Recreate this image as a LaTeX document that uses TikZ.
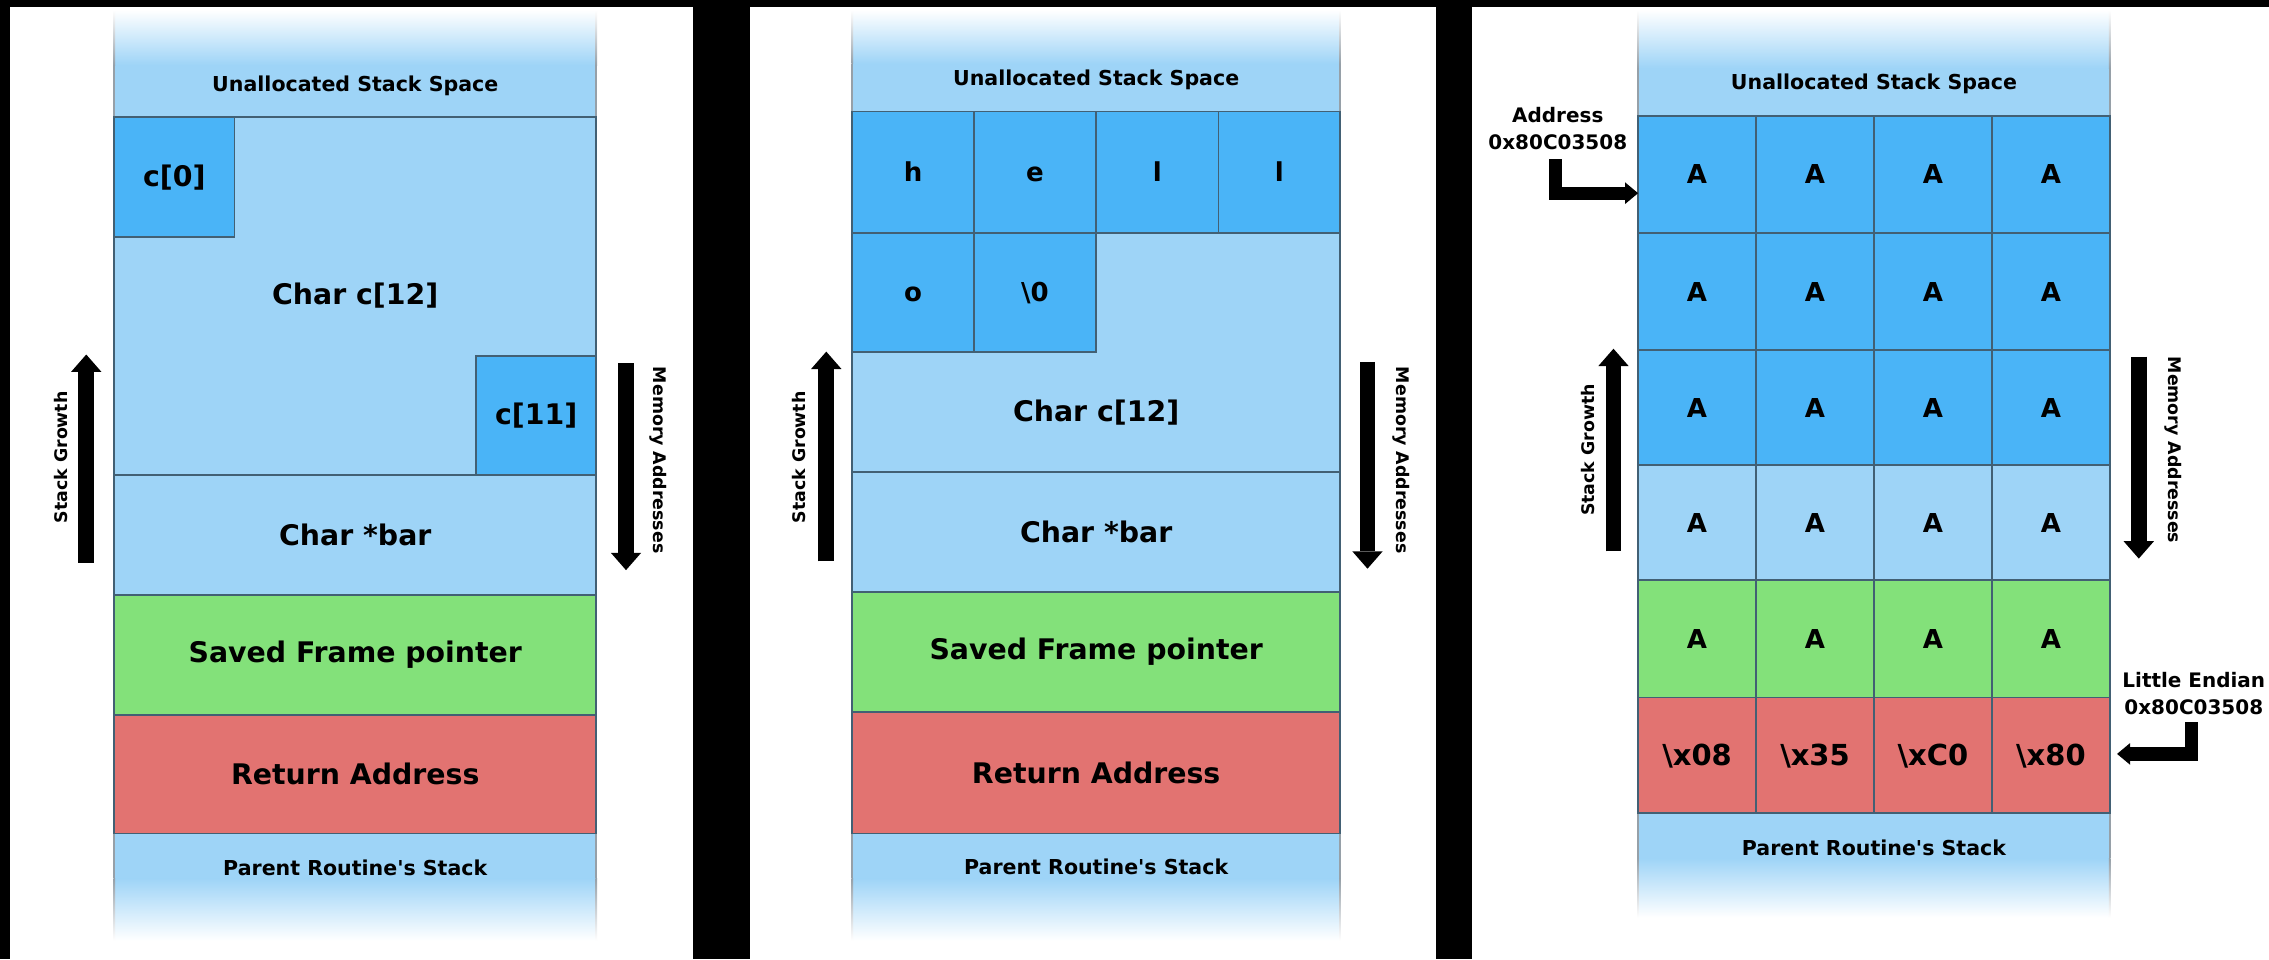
\documentclass[tikz,border=0pt]{standalone}
\usepackage{fontspec}
\setmainfont{DejaVu Sans}
\usetikzlibrary{arrows.meta}

\definecolor{lb}{RGB}{158,212,247}
\definecolor{cb}{RGB}{74,180,247}
\definecolor{gr}{RGB}{131,225,122}
\definecolor{rd}{RGB}{226,115,113}
\definecolor{sep}{RGB}{66,96,116}
\definecolor{side}{RGB}{150,160,168}

\newcommand\mainlbl{\fontsize{9.8}{11}\selectfont\bfseries}
\newcommand\smalllblfont{\fontsize{7.1}{8.5}\selectfont\bfseries}
\newcommand\sidefont{\fontsize{6}{7}\selectfont\bfseries}
\newcommand\cellfont{\fontsize{9}{10}\selectfont\bfseries}
\newcommand\hexfont{\fontsize{10}{11}\selectfont\bfseries}
\newcommand\addrfont{\fontsize{6.9}{9.25}\selectfont\bfseries}

\tikzset{
  lbrow/.style={rectangle, fill=lb, draw=sep, line width=0.6pt,
    inner sep=0pt, outer sep=0pt, font=\mainlbl},
  cellbox/.style={lbrow, fill=cb},
  fpbox/.style={lbrow, fill=gr},
  retbox/.style={lbrow, fill=rd},
  glyph/.style={font=\cellfont, text height=6.6pt, text depth=0pt},
  hexglyph/.style={font=\hexfont, text height=7.3pt, text depth=0pt},
  smalllbl/.style={font=\smalllblfont, inner sep=0pt},
  sidelbl/.style={font=\sidefont, inner sep=0pt},
  addrlbl/.style={font=\addrfont, align=center, inner sep=0pt},
  growarrow/.style={line width=5.5pt,
    -{Triangle[width=10.5pt,length=6pt,line width=0pt]}},
  ptrarrow/.style={line width=4.6pt, line join=miter,
    -{Triangle[width=7.5pt,length=4.5pt,line width=0pt]}},
}

% name, style, x1, y1, x2, y2, text
\newcommand\memcell[7]{%
  \node[#2, minimum width={((#5)-(#3))*0.5pt}, minimum height={((#6)-(#4))*0.5pt}]
    (#1) at ({((#3)+(#5))/2},{((#4)+(#6))/2}) {#7};}

% fading ends of a stack column:
% xl, xr, fade top, solid top, rows top, rows bottom, solid end, fade end
\newcommand\stackends[8]{%
  \shade[top color=white,bottom color=lb] (#1,#3) rectangle (#2,#4);
  \fill[lb] (#1,#4) rectangle (#2,#5);
  \fill[lb] (#1,#6) rectangle (#2,#7);
  \shade[top color=lb,bottom color=white] (#1,#7) rectangle (#2,#8);
  \foreach \sx in {#1,#2}{
    \shade[top color=white,bottom color=side] (\sx-0.6,#3) rectangle (\sx+0.6,#4);
    \fill[side] (\sx-0.6,#4) rectangle (\sx+0.6,#5);
    \fill[side] (\sx-0.6,#6) rectangle (\sx+0.6,#7);
    \shade[top color=side,bottom color=white] (\sx-0.6,#7) rectangle (\sx+0.6,#8);
  }}

\begin{document}
\begin{tikzpicture}[x=0.5pt,y=-0.5pt]
\useasboundingbox (0,0) rectangle (1568,663);
\fill[black] (0,0) rectangle (1568,663);
\fill[white] (7,5) rectangle (479,663);
\fill[white] (518,5) rectangle (992,663);
\fill[white] (1017,5) rectangle (1568,663);

% ---------- frame of foo(): layout ----------
\stackends{79}{412}{7}{45}{81}{576}{607}{650}
\memcell{arrA}{lbrow}{79}{81}{412}{328}{Char c[12]}
\memcell{cfirst}{cellbox}{79}{81}{162}{164}{c[0]}
\memcell{clast}{cellbox}{329}{246}{412}{328}{c[11]}
\memcell{barA}{lbrow}{79}{328}{412}{411}{Char *bar}
\memcell{sfpA}{fpbox}{79}{411}{412}{494}{Saved Frame pointer}
\memcell{retA}{retbox}{79}{494}{412}{576}{Return Address}
\node[smalllbl] (unA) at (245.5,59) {Unallocated Stack Space};
\node[smalllbl] (prA) at (245.5,600) {Parent Routine\textquotesingle s Stack};

\coordinate (sgAfoot) at (59.6,389);
\coordinate (sgAtip) at (59.6,245);
\draw[growarrow] (sgAfoot) -- (sgAtip);
\coordinate (maAtop) at (432.6,251);
\coordinate (maAtip) at (432.6,394);
\draw[growarrow] (maAtop) -- (maAtip);
\node[sidelbl, rotate=90] (sgA) at (42.5,316) {Stack Growth};
\node[sidelbl, rotate=-90] (maA) at (455,318) {Memory Addresses};

% ---------- frame with "hello" copied in ----------
\stackends{589}{926}{7}{44}{77}{576}{607}{650}
\memcell{arrB}{lbrow}{589}{161}{926}{326}{}
\memcell{hB}{cellbox,glyph}{589}{77}{673}{161}{h}
\memcell{eB}{cellbox,glyph}{673}{77}{757.5}{161}{e}
\memcell{lB}{cellbox,glyph}{757.5}{77}{842}{161}{l}
\memcell{llB}{cellbox,glyph}{842}{77}{926}{161}{l}
\memcell{oB}{cellbox,glyph}{589}{161}{673}{243}{o}
\memcell{nulB}{cellbox,glyph}{673}{161}{757.5}{243}{\textbackslash 0}
\node[font=\mainlbl, inner sep=0pt] (arrBtxt) at (757.5,285) {Char c[12]};
\memcell{barB}{lbrow}{589}{326}{926}{409}{Char *bar}
\memcell{sfpB}{fpbox}{589}{409}{926}{492}{Saved Frame pointer}
\memcell{retB}{retbox}{589}{492}{926}{576}{Return Address}
\node[smalllbl] (unB) at (757.5,55) {Unallocated Stack Space};
\node[smalllbl] (prB) at (757.5,599) {Parent Routine\textquotesingle s Stack};

\coordinate (sgBfoot) at (571,388);
\coordinate (sgBtip) at (571,243);
\draw[growarrow] (sgBfoot) -- (sgBtip);
\coordinate (maBtop) at (945,250);
\coordinate (maBtip) at (945,393);
\draw[growarrow] (maBtop) -- (maBtip);
\node[sidelbl, rotate=90] (sgB) at (552,316) {Stack Growth};
\node[sidelbl, rotate=-90] (maB) at (968,318) {Memory Addresses};

% ---------- overflowed frame ----------
\stackends{1132}{1458}{7}{47}{80}{562}{593}{634}
\foreach \r/\ya/\yb in {1/80/161,2/161/242,3/242/321.5}{
  \foreach \c/\xa/\xb in {1/1132/1213.5,2/1213.5/1295,3/1295/1376.5,4/1376.5/1458}{
    \memcell{r\r\c}{cellbox,glyph}{\xa}{\ya}{\xb}{\yb}{A}}}
\foreach \c/\xa/\xb in {1/1132/1213.5,2/1213.5/1295,3/1295/1376.5,4/1376.5/1458}{
  \memcell{r4\c}{lbrow,glyph}{\xa}{321.5}{\xb}{401}{A}
  \memcell{r5\c}{fpbox,glyph}{\xa}{401}{\xb}{482}{A}}
\memcell{r61}{retbox,hexglyph}{1132}{482}{1213.5}{562}{\textbackslash x08}
\memcell{r62}{retbox,hexglyph}{1213.5}{482}{1295}{562}{\textbackslash x35}
\memcell{r63}{retbox,hexglyph}{1295}{482}{1376.5}{562}{\textbackslash xC0}
\memcell{r64}{retbox,hexglyph}{1376.5}{482}{1458}{562}{\textbackslash x80}
\node[smalllbl] (unC) at (1295,58) {Unallocated Stack Space};
\node[smalllbl] (prC) at (1295,586) {Parent Routine\textquotesingle s Stack};

\coordinate (sgCfoot) at (1115,381);
\coordinate (sgCtip) at (1115,241);
\draw[growarrow] (sgCfoot) -- (sgCtip);
\coordinate (maCtop) at (1478,246.5);
\coordinate (maCtip) at (1478,386);
\draw[growarrow] (maCtop) -- (maCtip);
\node[sidelbl, rotate=90] (sgC) at (1097.5,311) {Stack Growth};
\node[sidelbl, rotate=-90] (maC) at (1502,311) {Memory Addresses};

% pointer to the start of the buffer
\node[addrlbl] (addr) at (1076.5,89) {Address\\0x80C03508};
\coordinate (addrtop) at (1075,110);
\coordinate (addrbend) at (1075,133.5);
\draw[ptrarrow] (addrtop) -- (addrbend) -- (addrbend -| r11.west);

% overwritten return address
\node[addrlbl] (endian) at (1516,479.25) {Little Endian\\0x80C03508};
\coordinate (letop) at (1514.5,499);
\coordinate (lebend) at (1514.5,521);
\coordinate (letip) at (1463,521);
\draw[ptrarrow] (letop) -- (lebend) -- (letip);
\end{tikzpicture}
\end{document}
